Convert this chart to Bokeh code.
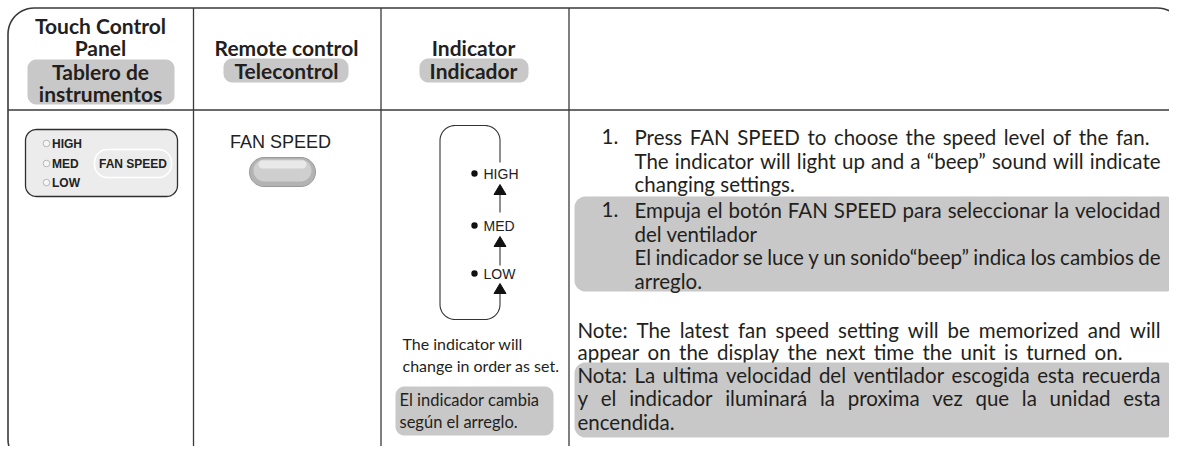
import glob
import os
import subprocess
import numpy as np
from bokeh.plotting import figure
from bokeh.models import Range1d
from bokeh.core.properties import value
from bokeh.embed import file_html
from bokeh.resources import INLINE

# ---------------- content ----------------
head_en = [["Touch Control", "Panel"], ["Remote control"], ["Indicator"]]
head_es = [["Tablero de", "instrumentos"], ["Telecontrol"], ["Indicador"]]
panel_levels = ["HIGH", "MED", "LOW"]
button_label = "FAN SPEED"
indicator_levels = ["HIGH", "MED", "LOW"]
ind_note_en = ["The indicator will", "change in order as set."]
ind_note_es = ["El indicador cambia", "según el arreglo."]
step_num = "1."
step_en = ["Press FAN SPEED to choose the speed level of the fan.",
           "The indicator will light up and a \u201cbeep\u201d sound will indicate",
           "changing settings."]
step_es = ["Empuja el botón FAN SPEED para seleccionar la velocidad",
           "del ventilador",
           "El indicador se luce y un sonido\u201cbeep\u201d indica los cambios de",
           "arreglo."]
note_en = ["Note:  The latest fan speed setting will be memorized and will",
           "appear on the display the next time the unit is turned on."]
note_es = ["Nota:  La ultima velocidad del ventilador escogida esta recuerda",
           "y el indicador iluminará la proxima vez que la unidad esta",
           "encendida."]

# ---------------- layout / style ----------------
W, H = 1169, 446
INK = "#231f20"
FRAME = "#3a3a3a"
GRAY = "#c8c8c8"
BODY = "Lato"
SANS = "Liberation Sans"

p = figure(width=W, height=H, output_backend="svg", toolbar_location=None,
           x_range=Range1d(0, W), y_range=Range1d(H, 0),
           min_border=0, outline_line_color=None)
p.axis.visible = False
p.grid.visible = False
p.background_fill_color = "white"
p.border_fill_color = "white"


# ---- text measuring (for justified lines) ----
def _find_lato():
    for root in ["/usr/share/fonts", "/usr/local/share/fonts", os.path.expanduser("~/.fonts"),
                 os.path.expanduser("~/.local/share/fonts")]:
        hits = glob.glob(os.path.join(root, "**", "Lato-Regular.ttf"), recursive=True)
        if hits:
            return hits[0]
    try:
        out = subprocess.run(["fc-match", "-f", "%{file}", "Lato:style=Regular"],
                             capture_output=True, text=True, timeout=5).stdout.strip()
        if out and "lato" in out.lower():
            return out
    except Exception:
        pass
    return None


_measure_font = None
try:
    from PIL import ImageFont
    _path = _find_lato()
    if _path:
        _measure_font = ImageFont.truetype(_path, size=200)
except Exception:
    _measure_font = None

_cw = {'a': .51, 'b': .56, 'c': .47, 'd': .56, 'e': .53, 'f': .33, 'g': .50, 'h': .56,
       'i': .24, 'j': .24, 'k': .50, 'l': .24, 'm': .84, 'n': .56, 'o': .56, 'p': .56,
       'q': .56, 'r': .36, 's': .42, 't': .35, 'u': .56, 'v': .50, 'w': .76, 'x': .49,
       'y': .50, 'z': .45, 'á': .51, 'ó': .56, '.': .24, ':': .24, ',': .24,
       '\u201c': .35, '\u201d': .35}


def measure(s, size):
    if _measure_font is not None:
        return _measure_font.getlength(s) * size / 200.0
    return sum(_cw.get(c, .62 if c.isupper() else .55) for c in s) * size


def rrect(x0, y0, x1, y1, r, n=14):
    pts = [(x1 - r, y0 + r, -90, 0), (x1 - r, y1 - r, 0, 90),
           (x0 + r, y1 - r, 90, 180), (x0 + r, y0 + r, 180, 270)]
    xs, ys = [], []
    for cx, cy, a0, a1 in pts:
        t = np.radians(np.linspace(a0, a1, n))
        xs.extend(cx + r * np.cos(t))
        ys.extend(cy + r * np.sin(t))
    xs.append(xs[0]); ys.append(ys[0])
    return xs, ys


def box(x0, y0, x1, y1, r, fill=GRAY, line=None, lw=1):
    xs, ys = rrect(x0, y0, x1, y1, r)
    p.patch(xs, ys, fill_color=fill if fill else "white", fill_alpha=1 if fill else 0,
            line_color=line, line_width=lw)


def txt(x, y, s, size, font=BODY, bold=False, align="left", color=INK):
    p.text(x=[x], y=[y], text=[s], text_font=value(font), text_font_size=f"{size}px",
           text_font_style="bold" if bold else "normal", text_align=align,
           text_baseline="middle", text_color=color)


def justify(line, x0, x1, y, size):
    words = line.split()
    wl = [measure(w, size) for w in words]
    gap = (x1 - x0 - sum(wl)) / (len(words) - 1)
    gap = max(gap, 0.18 * size)
    x = x0
    for w, l in zip(words, wl):
        txt(x, y, w, size)
        x += l + gap


# ---------------- frame & grid ----------------
fx0, fy0, fx1, fy1 = 7.5, 7.5, 1183, 465
xs, ys = rrect(fx0, fy0, fx1, fy1, 26)
p.line(xs, ys, line_color=FRAME, line_width=1.6)
col_x = [193, 380.5, 568.5]
for cx in col_x:
    p.line([cx, cx], [fy0, fy1], line_color=FRAME, line_width=1.3)
p.line([fx0, fx1], [109.5, 109.5], line_color=FRAME, line_width=1.6)

# ---------------- headers ----------------
HS = 21
hx = [100, 286, 473]
txt(hx[0], 25, head_en[0][0], HS, bold=True, align="center")
txt(hx[0], 47, head_en[0][1], HS, bold=True, align="center")
box(27, 59, 174, 104, 9)
txt(hx[0], 71, head_es[0][0], HS, bold=True, align="center")
txt(hx[0], 93, head_es[0][1], HS, bold=True, align="center")

txt(hx[1], 47, head_en[1][0], HS, bold=True, align="center")
box(223, 58, 348, 82, 9)
txt(hx[1], 70, head_es[1][0], HS, bold=True, align="center")

txt(hx[2], 47, head_en[2][0], HS, bold=True, align="center")
box(419, 58, 528, 82, 9)
txt(hx[2], 70, head_es[2][0], HS, bold=True, align="center")

# ---------------- touch control panel ----------------
box(25, 129, 177, 196, 11, fill="#ececec", line="#2e2e2e", lw=1.3)
box(94, 149, 171, 177, 13, fill=None, line="#ffffff", lw=1.6)
led_y = [143, 163, 182]
p.circle(x=[46] * 3, y=led_y, radius=3.3, fill_color="#f6f6f6", line_color="#a8a8a8", line_width=0.8)
for lab, yy in zip(panel_levels, led_y):
    txt(51.5, yy, lab, 12, font=SANS, bold=True, color="#222222")
txt(132.5, 163, button_label, 12, font=SANS, bold=True, align="center", color="#222222")

# ---------------- remote control ----------------
txt(280, 141, button_label, 18, font=SANS, align="center", color="#222222")
box(249, 157, 315, 186, 14.5, fill="#b3b3b3", line="#999999", lw=1)
box(253, 159, 311, 181, 11, fill="#cfcfcf", line=None)
box(258, 160, 306, 168, 4, fill="#e9e9e9", line=None)

# ---------------- indicator ----------------
ix0, iy0, ix1, iy1, ir = 439.5, 125, 499.5, 319, 15
t1 = np.radians(np.linspace(-90, -180, 14))
t2 = np.radians(np.linspace(180, 90, 14))
t3 = np.radians(np.linspace(90, 0, 14))
t0 = np.radians(np.linspace(0, -90, 14))
ox, oy = [ix1], [162]
ox += list(ix1 - ir + ir * np.cos(t0)); oy += list(iy0 + ir + ir * np.sin(t0))
ox += list(ix0 + ir + ir * np.cos(t1)); oy += list(iy0 + ir + ir * np.sin(t1))
ox += list(ix0 + ir + ir * np.cos(t2)); oy += list(iy1 - ir + ir * np.sin(t2))
ox += list(ix1 - ir + ir * np.cos(t3)); oy += list(iy1 - ir + ir * np.sin(t3))
ox += [ix1]; oy += [292]
p.line(ox, oy, line_color="#333333", line_width=1.1)
for a, b in [(193, 212), (245, 265)]:
    p.line([ix1, ix1], [a, b], line_color="#333333", line_width=1.1)
tips = [184, 236, 283]
p.patches([[ix1 - 6, ix1, ix1 + 6] for _ in tips], [[t + 10, t, t + 10] for t in tips],
          fill_color="#111111", line_color="#111111")
ind_y = [173, 225, 273]
p.circle(x=[474] * 3, y=ind_y, radius=3.2, fill_color="#111111", line_color=None)
for lab, yy in zip(indicator_levels, ind_y):
    txt(483, yy, lab, 14, font=SANS, color="#222222")

txt(402, 343, ind_note_en[0], 16)
txt(402, 365, ind_note_en[1], 16)
box(395, 386, 553, 435, 9)
txt(399, 399, ind_note_es[0], 16.5)
txt(399, 421, ind_note_es[1], 16.5)

# ---------------- description column ----------------
FS = 20.5
nx, tx, bx, rx = 601, 634, 577, 1160
txt(nx, 136, step_num, FS)
justify(step_en[0], tx, 1149, 136, FS)
justify(step_en[1], tx, rx, 160, FS)
txt(tx, 183, step_en[2], FS)

box(574, 196, 1176, 291, 11)
txt(nx, 209, step_num, FS)
justify(step_es[0], tx, rx, 209, FS)
txt(tx, 233, step_es[1], FS)
justify(step_es[2], tx, rx, 256, FS)
txt(tx, 280, step_es[3], FS)

justify(note_en[0], bx, rx, 329, FS)
justify(note_en[1], bx, 1122, 351, FS)

box(574, 362, 1176, 437, 11)
justify(note_es[0], bx, rx, 374, FS)
justify(note_es[1], bx, rx, 397, FS)
txt(bx, 421, note_es[2], FS)

open("out.html", "w").write(file_html(p, INLINE))
